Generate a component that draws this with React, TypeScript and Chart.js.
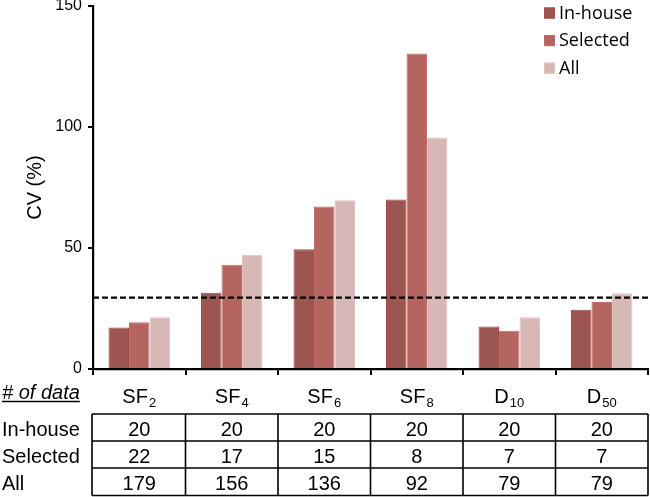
import { useEffect, useRef } from 'react';
import { Chart, registerables } from 'chart.js';

Chart.register(...registerables);

// ---- data ----
const categories = ['SF', 'SF', 'SF', 'SF', 'D', 'D'];
const categorySubscripts = ['2', '4', '6', '8', '10', '50'];
const seriesNames = ['In-house', 'Selected', 'All'];
const inHouseCV = [17.2, 31.5, 49.5, 70.0, 17.6, 24.5];
const selectedCV = [19.3, 43.1, 67.2, 130.4, 15.8, 27.7];
const allCV = [21.4, 47.2, 69.7, 95.7, 21.4, 31.3];
const thresholdCV = 29.5;
const yMin = 0;
const yMax = 150;
const yStep = 50;
const yTitle = 'CV (%)';
const tableHeader = '# of data';
const tableRowLabels = ['In-house', 'Selected', 'All'];
const inHouseCounts = [20, 20, 20, 20, 20, 20];
const selectedCounts = [22, 17, 15, 8, 7, 7];
const allCounts = [179, 156, 136, 92, 79, 79];

// ---- styles ----
const FONT = '"Liberation Sans", Arial, sans-serif';
const LEGEND_FONT = '"Open Sans", sans-serif';
const fills = ['#9C5550', '#B5655F', '#D8B8B7'];
const borders = ['#A34A45', '#BF6E68', '#E2C4C3'];

const overlayPlugin = {
  id: 'overlay',
  afterDatasetsDraw(chart: any) {
    const { ctx, chartArea, scales } = chart;
    const y = scales.y;
    const W = chart.width;
    ctx.save();
    const ty = y.getPixelForValue(thresholdCV);
    ctx.strokeStyle = '#000';
    ctx.lineWidth = 2.3;
    ctx.setLineDash([6, 3]);
    ctx.beginPath();
    ctx.moveTo(chartArea.left, ty);
    ctx.lineTo(W, ty);
    ctx.stroke();
    ctx.setLineDash([]);
    ctx.restore();
  },
  afterDraw(chart: any) {
    const { ctx, chartArea, scales } = chart;
    const x = scales.x;
    const n = categories.length;
    const catW = (chartArea.right - chartArea.left) / n;
    ctx.save();

    // legend
    const legendX = 544;
    const legendTop = 7.5;
    const legendGap = 27.6;
    const box = 11;
    seriesNames.forEach((name, i) => {
      const by = legendTop + i * legendGap;
      ctx.fillStyle = fills[i];
      ctx.fillRect(legendX, by, box, box);
      ctx.strokeStyle = borders[i];
      ctx.lineWidth = 1;
      ctx.strokeRect(legendX + 0.5, by + 0.5, box - 1, box - 1);
      ctx.fillStyle = '#000';
      ctx.font = `18px ${LEGEND_FONT}`;
      ctx.textAlign = 'left';
      ctx.textBaseline = 'middle';
      ctx.fillText(name, legendX + 15, by + box / 2 + 0.5);
    });

    ctx.fillStyle = '#000';
    ctx.strokeStyle = '#000';

    // category labels with subscripts
    ctx.textBaseline = 'alphabetic';
    ctx.textAlign = 'left';
    for (let i = 0; i < n; i++) {
      const cx = x.getPixelForValue(i);
      ctx.font = `20px ${FONT}`;
      const mw = ctx.measureText(categories[i]).width;
      ctx.font = `13px ${FONT}`;
      const sw = ctx.measureText(categorySubscripts[i]).width;
      const start = cx - (mw + sw + 1) / 2;
      ctx.font = `20px ${FONT}`;
      ctx.fillText(categories[i], start, 402.5);
      ctx.font = `13px ${FONT}`;
      ctx.fillText(categorySubscripts[i], start + mw + 1, 406.5);
    }

    // "# of data" header
    ctx.font = `italic 20px ${FONT}`;
    const hw = ctx.measureText(tableHeader).width;
    ctx.fillText(tableHeader, 2, 398.5);
    ctx.lineWidth = 1.4;
    ctx.beginPath();
    ctx.moveTo(2, 401.5);
    ctx.lineTo(2 + hw, 401.5);
    ctx.stroke();

    // table
    const rowsY = [414, 441, 468, 495.5];
    const left = chartArea.left - 1;
    const right = chartArea.right;
    ctx.lineWidth = 1.6;
    rowsY.forEach((ry) => {
      ctx.beginPath();
      ctx.moveTo(left, ry);
      ctx.lineTo(right, ry);
      ctx.stroke();
    });
    for (let i = 0; i <= n; i++) {
      const bx = i === 0 ? left : i === n ? right : x.getPixelForValue(i) - catW / 2;
      ctx.beginPath();
      ctx.moveTo(bx, rowsY[0]);
      ctx.lineTo(bx, rowsY[rowsY.length - 1]);
      ctx.stroke();
    }
    const rows = [inHouseCounts, selectedCounts, allCounts];
    const baselines = [436, 463, 490];
    ctx.font = `20px ${FONT}`;
    rows.forEach((vals, r) => {
      ctx.textAlign = 'left';
      ctx.fillText(tableRowLabels[r], 2, baselines[r]);
      ctx.textAlign = 'center';
      vals.forEach((v, i) => {
        ctx.fillText(String(v), x.getPixelForValue(i), baselines[r]);
      });
    });
    ctx.restore();
  },
};

export default function App() {
  const ref = useRef<HTMLCanvasElement>(null);
  useEffect(() => {
    document.body.style.margin = '0';
    if (!ref.current) return;
    const chart = new Chart(ref.current, {
      type: 'bar',
      data: {
        labels: categories.map((c, i) => c + categorySubscripts[i]),
        datasets: [inHouseCV, selectedCV, allCV].map((d, i) => ({
          label: seriesNames[i],
          data: d,
          backgroundColor: fills[i],
          borderColor: borders[i],
          borderWidth: 1,
          barPercentage: 1,
          categoryPercentage: 0.665,
        })),
      },
      options: {
        animation: false,
        responsive: false,
        layout: { padding: { top: 6, right: 2, left: 0, bottom: 0 } },
        plugins: { legend: { display: false }, tooltip: { enabled: false } },
        scales: {
          x: {
            ticks: { display: false },
            grid: { drawOnChartArea: false, drawTicks: true, tickLength: 6, color: '#000', lineWidth: 2, offset: true },
            border: { display: true, color: '#000', width: 2.2 },
            afterFit: (s: any) => {
              s.height = 128;
              s.paddingLeft = 0;
              s.paddingRight = 0;
            },
          },
          y: {
            min: yMin,
            max: yMax,
            ticks: { stepSize: yStep, color: '#000', font: { size: 16, family: FONT }, padding: 6 },
            grid: { drawOnChartArea: false, drawTicks: true, tickLength: 5, color: '#000', lineWidth: 2 },
            border: { display: true, color: '#000', width: 2.2 },
            title: {
              display: true,
              text: yTitle,
              color: '#000',
              font: { size: 20, family: FONT },
              padding: { top: 23.5, bottom: 0 },
            },
            afterFit: (s: any) => {
              s.width = 93;
              s.paddingTop = 0;
              s.paddingBottom = 0;
            },
          },
        },
      },
      plugins: [overlayPlugin],
    });
    return () => chart.destroy();
  }, []);
  return <canvas ref={ref} width={650} height={497} style={{ display: 'block' }} />;
}
